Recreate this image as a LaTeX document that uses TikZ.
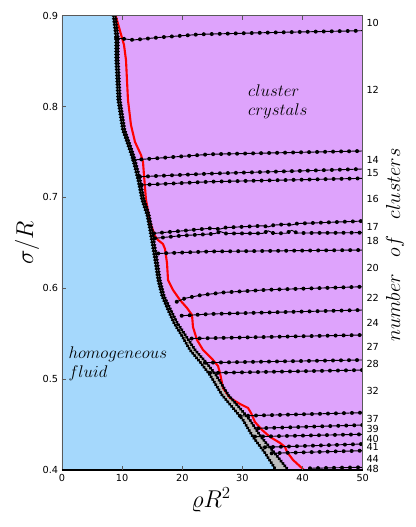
\documentclass[tikz,border=0pt]{standalone}
\usepackage{fontspec}
\usepackage{amsmath}
\usetikzlibrary{decorations.markings}
\newfontfamily\tickfont{DejaVu Sans}
\definecolor{fluidblue}{HTML}{A5D8FC}
\definecolor{crystalpurple}{HTML}{DEA3FC}
\definecolor{bandgray}{HTML}{BEBEBE}
\tikzset{
  branch/.style={line width=0.8pt, postaction={decorate},
    decoration={markings, mark=between positions 0 and 1 step 2.4mm with {\fill (0,0) circle (0.06cm);}}},
  edgeline/.style={line width=0.8pt, postaction={decorate},
    decoration={markings, mark=between positions 0 and 1 step 0.9mm with {\fill (0,0) circle (0.055cm);}}},
  ticklabel/.style={font=\tickfont\fontsize{8.3}{10}\selectfont, inner sep=0pt},
  phaselabel/.style={font=\fontsize{14.5}{16.3}\selectfont, align=left, anchor=west, inner sep=0pt},
  axislabel/.style={font=\fontsize{20}{24}\selectfont, inner sep=0pt},
}

\begin{document}
\begin{tikzpicture}
\useasboundingbox (-1.86,-1.71) rectangle (10.62,14.1);
\begin{scope}[x=0.18042cm, y=27.258cm, yshift=-10.9032cm]
  % boundary of the fluid phase (outer) and of the band (inner)
  \foreach \x/\y [count=\i] in {8.53/0.9, 8.98/0.8755, 8.98/0.8512, 9.31/0.8072, 10.09/0.7742,
      10.97/0.7577, 11.81/0.7412, 12.64/0.7192, 13.30/0.6972, 14.13/0.6807, 14.63/0.6641,
      15.46/0.6311, 15.96/0.6091, 16.63/0.5915, 17.63/0.5761, 18.62/0.5618, 19.95/0.5475,
      21.28/0.5321, 22.95/0.5189, 24.61/0.5046, 26.60/0.4826, 28.43/0.4683, 30.10/0.4550,
      31.76/0.4364, 33.75/0.4188, 35.58/0.4}
    \coordinate (out\i) at (\x,\y);
  \foreach \x/\y [count=\i] in {8.88/0.9, 9.33/0.8755, 9.33/0.8512, 9.66/0.8072, 10.44/0.7742,
      11.32/0.7577, 12.16/0.7412, 12.99/0.7192, 13.65/0.6972, 14.48/0.6807, 14.98/0.6641,
      15.81/0.6311, 16.31/0.6091, 16.98/0.5915, 18.08/0.5761, 19.17/0.5618, 20.6/0.5475,
      22.13/0.5321, 23.9/0.5189, 25.6/0.5046, 27.65/0.4826, 29.55/0.4683, 31.25/0.4550,
      33.1/0.4364, 35.35/0.4188, 37.6/0.4}
    \coordinate (in\i) at (\x,\y);

  \begin{scope}
    \clip (0,0.4) rectangle (50,0.9);
    \fill[crystalpurple] (0,0.4) rectangle (50,0.9);
    \fill[fluidblue] (0,0.4) -- (0,0.9) \foreach \i in {1,...,26} {-- (out\i)} -- cycle;
    \fill[bandgray] (out1) \foreach \i in {2,...,26} {-- (out\i)}
      \foreach \i in {26,...,1} {-- (in\i)} -- cycle;

    % melting line
    \draw[red, line width=1.8pt, line join=round] (8.93,0.9) -- (10.31,0.8678) -- (10.64,0.8512)
      -- (10.97,0.8072) -- (11.47,0.7797) -- (12.14,0.7610) -- (13.14,0.7467) -- (13.47,0.7390)
      -- (13.63,0.7247) -- (13.97,0.6972) -- (14.63,0.6729) -- (15.46,0.6575) -- (15.96,0.6531)
      -- (16.79,0.6487) -- (17.13,0.6432) -- (17.46,0.6278) -- (17.63,0.6091) -- (18.46,0.5981)
      -- (19.62,0.5871) -- (20.79,0.5783) -- (21.62,0.5706) -- (21.78,0.5574) -- (22.45,0.5431)
      -- (23.45,0.5321) -- (25.11,0.5211) -- (25.94,0.5145) -- (26.27,0.5068) -- (26.77,0.4903)
      -- (27.93,0.4793) -- (29.60,0.4727) -- (30.93,0.4683) -- (31.43,0.4628) -- (32.09,0.4528)
      -- (33.26,0.4441) -- (34.59,0.4364) -- (36.25,0.4298) -- (37.08,0.4254) -- (37.41,0.4199)
      -- (38.41,0.4111) -- (40.24,0.4);

    % branches of fixed cluster number
    \draw[branch] (9.0,0.8755) -- (11.9,0.8733) -- (16,0.876) -- (23,0.8795) -- (35,0.8815) -- (50,0.8835);
    \draw[branch] (11.86,0.7412) -- (24.6,0.7475) -- (50,0.7511);
    \draw[branch] (12.97,0.7228) -- (24.6,0.7262) -- (50,0.7313);
    \draw[branch] (13.25,0.7137) -- (24.6,0.7173) -- (50,0.7210);
    \draw[branch] (15.3,0.6605) -- (20,0.6632) -- (24.6,0.666) -- (26.3,0.6652) -- (27.2,0.6668)
      -- (33.4,0.6688) -- (34.3,0.6676) -- (35.2,0.6695) -- (37.3,0.6705) -- (38.2,0.6697)
      -- (39.1,0.6712) -- (50,0.674);
    \draw[branch] (15.46,0.6550) -- (20,0.658) -- (24.6,0.6597) -- (25.5,0.6603) -- (26.3,0.6625)
      -- (27.2,0.6603) -- (33.4,0.6605) -- (34.3,0.6632) -- (35.2,0.6605) -- (37.3,0.6606)
      -- (38.2,0.6638) -- (39.1,0.6608) -- (50,0.6612);
    \draw[branch] (16.0,0.6383) -- (24.6,0.6405) -- (50,0.6421);
    \draw[branch] (19.07,0.5852) -- (20.5,0.589) -- (22.95,0.5923) -- (27,0.5955) -- (34.3,0.5984) -- (50,0.6017);
    \draw[branch] (19.9,0.5698) -- (24.6,0.5717) -- (50,0.5761);
    \foreach \xa/\ya/\yb in {21.56/0.5447/0.5486, 23.78/0.5181/0.5211, 24.61/0.5068/0.5100,
        29.6/0.4595/0.4631, 32.64/0.4459/0.4495, 32.09/0.4367/0.4393, 33.75/0.4250/0.4286,
        34.87/0.4184/0.4213, 41.24/0.4019/0.4030}
      \draw[branch] (\xa,\ya) -- (50,\yb);

    \draw[edgeline] (out1) \foreach \i in {2,...,26} {-- (out\i)};
    \draw[edgeline] (in1) \foreach \i in {2,...,26} {-- (in\i)};
  \end{scope}

  % frame and ticks
  \draw[black!65, line width=0.8pt] (0,0.4) rectangle (50,0.9);
  \draw[black, line width=1.3pt] (0,0.4) -- (50,0.4);
  \foreach \x in {10,20,30,40} {
    \draw[black!65, line width=0.6pt] (\x,0.4) -- ++(0,0.0045);
    \draw[black!65, line width=0.6pt] (\x,0.9) -- ++(0,-0.0045);
  }
  \foreach \y in {0.5,0.6,0.7,0.8}
    \draw[black!65, line width=0.6pt] (0,\y) -- ++(0.6,0);
  \foreach \x in {0,10,20,30,40,50}
    \node[ticklabel, anchor=north, yshift=-0.12cm] (rho\x) at (\x,0.4) {\x};
  \foreach \y [count=\i] in {0.4,0.5,0.6,0.7,0.8,0.9}
    \node[ticklabel, anchor=east, xshift=-0.11cm] (sig\i) at (0,\y) {\y};
  \foreach \n/\s in {10/0.892, 12/0.8182, 14/0.7412, 15/0.7269, 16/0.6983, 17/0.6674,
      18/0.6520, 20/0.6223, 22/0.5893, 24/0.5618, 27/0.5354, 28/0.5167, 32/0.4870,
      37/0.4562, 39/0.4452, 40/0.4342, 41/0.4254, 44/0.4122, 48/0.4012}
    \node[ticklabel, anchor=west] (nc\n) at (50.6,\s) {\n};

  % labels
  \node[axislabel, rotate=90] (ylabel) at (-5.82,0.6498) {$\sigma/R$};
  \node[axislabel] (xlabel) at (24.78,0.3670) {$\varrho R^2$};
  \node[axislabel, rotate=90, font=\fontsize{18}{22}\selectfont] (nlabel) at (55.37,0.6476)
    {$number\hspace{0.8em}of\hspace{0.8em}clusters$};
  \node[phaselabel] (crystal) at (30.93,0.805) {$cluster$\\$crystals$};
  \node[phaselabel] (fluid) at (1.05,0.5167) {$homogeneous$\\$fluid$};
\end{scope}
\end{tikzpicture}
\end{document}
